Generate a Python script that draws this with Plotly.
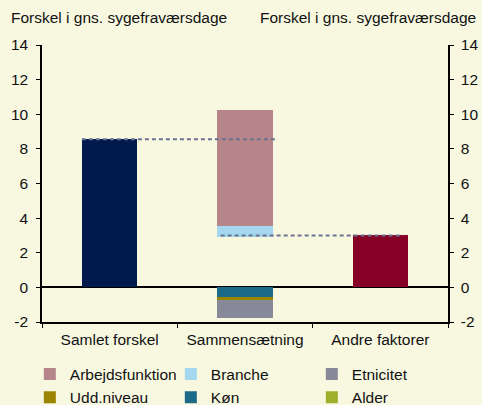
import plotly.graph_objects as go

categories = ["Samlet forskel", "Sammensætning", "Andre faktorer"]
samlet_forskel = 8.55
andre_faktorer = 3.0
positive_base = 2.92

component_names = ["Arbejdsfunktion", "Branche", "Etnicitet", "Udd.niveau", "Køn", "Alder"]
component_values = [6.7, 0.62, -1.02, -0.19, -0.56, 0.0]
component_colors = ["#B5858A", "#A5D8EE", "#878898", "#9C8400", "#1B6A87", "#9CB02C"]
# stacking order from zero outward
stack_order = ["Køn", "Udd.niveau", "Etnicitet", "Alder", "Branche", "Arbejdsfunktion"]

y_title = "Forskel i gns. sygefraværsdage"
y_ticks = [-2, 0, 2, 4, 6, 8, 10, 12, 14]
y_ticktext = [str(v) for v in y_ticks]

FONT = "Liberation Sans, Arial, sans-serif"
FS = 15.5
BG = "#F8F8E1"
W = 0.41

fig = go.Figure()

fig.add_bar(x=[0], y=[samlet_forskel], width=W, marker=dict(color="#001A4E", line_width=0),
            showlegend=False, name=categories[0])
fig.add_bar(x=[1], y=[positive_base], width=W, marker=dict(color="rgba(0,0,0,0)", line_width=0),
            showlegend=False, hoverinfo="skip", name="base")
for nm in stack_order:
    i = component_names.index(nm)
    fig.add_bar(x=[1], y=[component_values[i]], width=W, name=nm,
                marker=dict(color=component_colors[i], line_width=0),
                legendrank=i + 1)
fig.add_bar(x=[2], y=[andre_faktorer], width=W, marker=dict(color="#870025", line_width=0),
            showlegend=False, name=categories[2])

dash_line = dict(color="#6B7390", width=2, dash="4px,3px")
fig.add_scatter(x=[0 - W / 2, 1 + W / 2 + 0.03], y=[samlet_forskel, samlet_forskel],
                mode="lines", line=dash_line, showlegend=False, hoverinfo="skip")
fig.add_scatter(x=[1 - W / 2 + 0.025, 2 + W / 2 - 0.035], y=[andre_faktorer, andre_faktorer],
                mode="lines", line=dash_line, showlegend=False, hoverinfo="skip")

axis_common = dict(range=[-2, 14], tickvals=y_ticks, ticktext=y_ticktext, ticks="outside",
                   ticklen=4, tickcolor="#000", showline=True, linecolor="#000", linewidth=1.5,
                   showgrid=False, tickfont=dict(size=FS, color="#111"), automargin=False)

fig.update_layout(
    width=482, height=405,
    margin=dict(l=42, r=34, t=45, b=83, autoexpand=False),
    paper_bgcolor=BG, plot_bgcolor=BG,
    barmode="relative", bargap=0,
    font=dict(family=FONT, size=FS, color="#111"),
    xaxis=dict(range=[-0.5, 2.5], tickvals=[0, 1, 2], ticktext=categories, ticks="",
               showline=True, linecolor="#000", linewidth=1.5, showgrid=False, zeroline=False,
               tickfont=dict(size=FS, color="#111"), automargin=False, ticklabelstandoff=3,
               minor=dict(tick0=-0.5, dtick=1, ticks="outside", ticklen=4, tickcolor="#000")),
    yaxis=dict(**axis_common, zeroline=True, zerolinecolor="#000", zerolinewidth=1.5,
               ticklabelstandoff=5),
    yaxis2=dict(**axis_common, overlaying="y", side="right", zeroline=False,
                ticklabelstandoff=4),
    legend=dict(orientation="h", x=-0.03, y=-0.128, xanchor="left", yanchor="top",
                entrywidth=96, bgcolor="rgba(0,0,0,0)", font=dict(size=FS),
                traceorder="normal", itemwidth=30),
    annotations=[
        dict(text=y_title, xref="paper", yref="paper", x=0, y=1, xshift=-33, yshift=38,
             xanchor="left", yanchor="top", showarrow=False, font=dict(size=FS)),
        dict(text=y_title, xref="paper", yref="paper", x=1, y=1, xshift=30, yshift=38,
             xanchor="right", yanchor="top", showarrow=False, font=dict(size=FS)),
    ],
)
fig.add_scatter(x=[None], y=[None], yaxis="y2", showlegend=False)

fig.write_html("out.html", config={"displayModeBar": False},
               post_script="document.body.style.margin='0';")
